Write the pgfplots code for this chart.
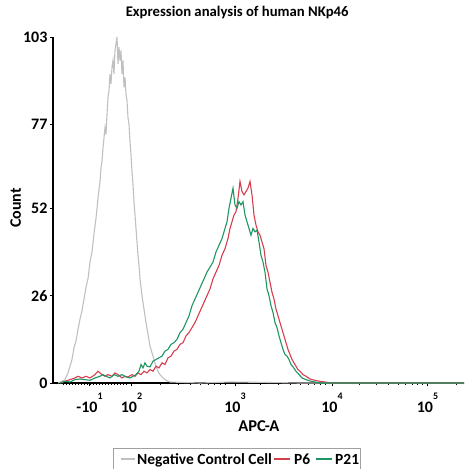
\documentclass[border=0pt]{standalone}
\usepackage{pgfplots}
\pgfplotsset{compat=1.18}
\usepackage{fontspec}
\setmainfont{Carlito}

\definecolor{colNeg}{RGB}{192,192,192}
\definecolor{colSix}{RGB}{214,62,78}
\definecolor{colTwo}{RGB}{30,150,98}
\definecolor{colBox}{RGB}{160,160,160}

\newcommand{\dec}[2]{#1\raisebox{1.7ex}{\fontsize{10}{10}\selectfont\bfseries #2}}

\begin{document}
\begin{tikzpicture}
\begin{axis}[
  scale only axis,
  width=411pt, height=346pt,
  xmin=53, xmax=464, ymin=0, ymax=103,
  axis x line=bottom, axis y line=left,
  axis line style={-, line width=1.1pt, black},
  tick align=outside,
  major tick length=3pt, minor tick length=2pt,
  every tick/.style={black, line width=0.8pt},
  ytick={0,26,52,77,103},
  minor y tick num=3,
  xtick={89.5,131.5,235,332,427.5},
  xticklabels={\dec{-10}{1},\dec{10}{2},\dec{10}{3},\dec{10}{4},\dec{10}{5}},
  minor xtick={63,66,69,72,75,78,81,84,87,90,93,96,99,102,105,108,111,114,117,120,123,126,
    160,178,190,200,208,214,220,225,260,278,290,300,308,314,320,325,
    359,376,388,398,405,412,417,422,456},
  /pgf/number format/assume math mode=true,
  yticklabel style={font=\fontsize{16}{16}\selectfont\bfseries, xshift=1pt},
  xticklabel style={font=\fontsize{16}{16}\selectfont\bfseries, yshift=-3pt},
  title={Expression analysis of human NKp46},
  title style={font=\fontsize{14.7}{15}\selectfont\bfseries, at={(axis description cs:0.448,1.043)}, anchor=base},
  xlabel={APC-A},
  xlabel style={font=\fontsize{16.5}{17}\selectfont\bfseries, at={(axis description cs:0.501,-0.1416)}, anchor=base},
  ylabel={Count},
  ylabel style={font=\fontsize{16}{16}\selectfont\bfseries, at={(axis description cs:-0.0779,0.506)}, anchor=base},
  clip=false,
]
\addplot[colNeg, line width=1.1pt] coordinates {
(58,0) (62,0.5) (65,1) (68,3) (70,5) (72,7) (74,10.5) (76,12.5) (78,16) (80,19)
(82,21.5) (84,25) (86,28.5) (88,31) (90,36) (92,39) (94,44.5) (96,49) (98,55) (100,60)
(101,64) (102,66) (103,70) (104,73) (105,76) (106,74) (107,80) (108,85) (109,87) (110,92)
(111,89) (112,94) (113,96) (114,92) (115,99) (116,101) (117,103) (118,95) (119,100) (120,96)
(121,99) (122,92) (123,96) (124,88) (125,91) (126,86) (127,84) (128,79) (129,77) (130,72)
(131,68) (132,63) (133,59) (134,54) (135,50) (136,46) (137,42) (138,38) (139,35) (140,31)
(142,26) (144,22) (146,18) (148,14.5) (150,11) (152,9) (154,7) (156,5) (158,3.5) (160,2.5)
(163,1.5) (166,0.8) (170,0.3) (180,0.2) (200,0) (230,0.3) (260,0.2) (300,0) (464,0)
};
\addplot[colSix, line width=1.1pt] coordinates {
(60,0) (65,0.5) (70,1) (75,1.5) (78,2) (82,1.5) (86,2) (90,1.5) (95,2.5) (98,3.5)
(100,3) (102,2.5) (105,2) (108,2.5) (112,2) (115,3) (118,2.5) (122,1.5) (125,2) (128,1.8)
(132,2.5) (135,2) (138,3) (141,2.5) (144,3.5) (147,3) (150,4) (153,3.5) (156,5) (159,4.5)
(162,6) (165,5.5) (168,7.5) (171,8) (174,9.5) (177,10) (180,11.5) (183,12) (186,14) (189,15)
(192,16.5) (195,18) (198,20) (201,22) (204,24) (207,26) (210,28) (213,31) (216,33) (219,35)
(222,38) (225,40) (228,43) (230,46) (232,48) (234,50) (236,51) (238,55) (240,60) (242,57)
(244,56) (246,57) (248,58) (250,60) (252,56) (254,50) (256,47) (258,45) (260,44) (262,42)
(264,40) (266,35) (268,33) (270,30) (272,27) (274,25) (276,22) (278,20) (280,18) (282,16)
(284,14) (286,12) (288,10) (290,8.5) (292,7) (294,6) (296,5) (298,4) (300,3.5) (303,2.5)
(306,2) (310,1.2) (315,0.8) (320,0.5) (325,0.3) (330,0) (464,0)
};
\addplot[colTwo, line width=1.1pt] coordinates {
(60,0) (65,0.5) (70,0.3) (75,1) (80,1.2) (85,1) (90,0.8) (95,1.5) (100,2) (103,2.5)
(106,2) (110,1.5) (114,2.5) (118,2) (122,2.5) (126,1.8) (130,1.5) (133,2) (136,2.5) (139,3.5)
(141,5.5) (143,4.5) (145,6) (147,5) (150,4.8) (153,6.5) (156,7) (159,7.5) (162,8) (165,9.5)
(168,10) (171,11.5) (174,12) (177,13) (180,15) (183,16) (186,18) (189,20) (192,23) (195,25)
(198,27) (201,29) (204,31) (207,33) (210,34.5) (213,36) (216,39) (219,41) (222,43) (225,46)
(227,48) (229,52) (231,55) (233,58) (235,53) (237,52) (239,54) (241,53) (243,54) (245,50)
(247,48) (249,46) (251,44) (253,46) (255,45) (257,45.5) (259,42) (261,38) (263,36) (265,33)
(267,28) (269,26) (271,23) (273,21) (275,18) (277,16.5) (279,14) (281,12) (283,10) (285,8.5)
(287,8) (289,7) (291,5.5) (293,4.8) (296,3.5) (299,2.5) (302,1.5) (306,1) (310,0.6) (315,0.3)
(320,0) (464,0)
};
\end{axis}
% legend below the axis: line samples first, then the texts
\draw[colBox, line width=0.7pt] (60pt,-65pt) rectangle (307pt,-92pt);
\draw[colNeg, line width=1.1pt] (68pt,-76pt) -- (82pt,-76pt);
\draw[colSix, line width=1.1pt] (221pt,-76pt) -- (237pt,-76pt);
\draw[colTwo, line width=1.1pt] (263pt,-76pt) -- (279pt,-76pt);
\begin{scope}[every node/.style={anchor=base west, inner sep=0pt, font=\fontsize{15.5}{16}\selectfont\bfseries}]
\node at (84pt,-81pt) {Negative Control Cell};
\node at (241pt,-81pt) {P6};
\node at (282pt,-81pt) {P21};
\end{scope}
\pgfresetboundingbox
\path (-53pt,-86pt) rectangle (411pt,383pt);
\end{tikzpicture}
\end{document}
